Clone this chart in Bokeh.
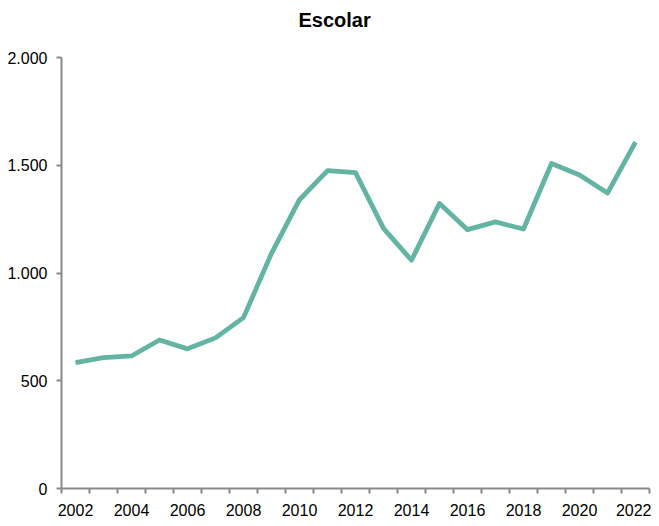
from bokeh.plotting import figure
from bokeh.models import FixedTicker, Range1d
from bokeh.embed import file_html
from bokeh.resources import INLINE

years = list(range(2002, 2023))
values = [584, 607, 615, 689, 648, 699, 793, 1091, 1340, 1475, 1466, 1207, 1059,
          1323, 1201, 1237, 1204, 1508, 1455, 1371, 1607]
x_labels = [2002, 2004, 2006, 2008, 2010, 2012, 2014, 2016, 2018, 2020, 2022]
y_ticks = [0, 500, 1000, 1500, 2000]
y_labels = ["0", "500", "1.000", "1.500", "2.000"]
title_text = "Escolar"

p = figure(width=651, height=518, output_backend="svg", toolbar_location=None,
           x_range=Range1d(2001.5, 2022.5), y_range=Range1d(0, 2000),
           min_border_left=61, min_border_right=2, min_border_top=57,
           min_border_bottom=28, title=title_text + "\n")

p.line(years, values, line_color="#63b4a2", line_width=4.8, line_join="round")

p.title.text_font = "Liberation Sans"
p.title.text_font_size = "20px"
p.title.text_font_style = "bold"
p.title.align = "left"
p.title.offset = 237
p.title.text_color = "#000000"

p.outline_line_color = None
p.xgrid.visible = False
p.ygrid.visible = False

ax = p.xaxis[0]
ax.ticker = FixedTicker(ticks=x_labels, minor_ticks=[y - 0.5 for y in years] + [2022.5])
ax.major_tick_out = 0
ax.major_tick_in = 0
ax.minor_tick_out = 5
ax.minor_tick_in = 0
ax.minor_tick_line_color = "#898989"
ax.axis_line_color = "#898989"
ax.axis_line_width = 2
ax.minor_tick_line_width = 2
ax.major_label_standoff = 10
ax.major_label_text_font = "Liberation Sans"
ax.major_label_text_font_size = "16px"
ax.major_label_text_color = "#000000"

ay = p.yaxis[0]
ay.ticker = FixedTicker(ticks=y_ticks, minor_ticks=[])
ay.major_label_overrides = {t: l for t, l in zip(y_ticks, y_labels)}
ay.major_tick_out = 5
ay.major_tick_in = 0
ay.minor_tick_out = 0
ay.minor_tick_in = 0
ay.major_tick_line_color = "#898989"
ay.major_tick_line_width = 2
ay.axis_line_color = "#898989"
ay.axis_line_width = 2
ay.major_label_standoff = 9
ay.major_label_text_font = "Liberation Sans"
ay.major_label_text_font_size = "16px"
ay.major_label_text_color = "#000000"

open("out.html", "w").write(file_html(p, INLINE))
